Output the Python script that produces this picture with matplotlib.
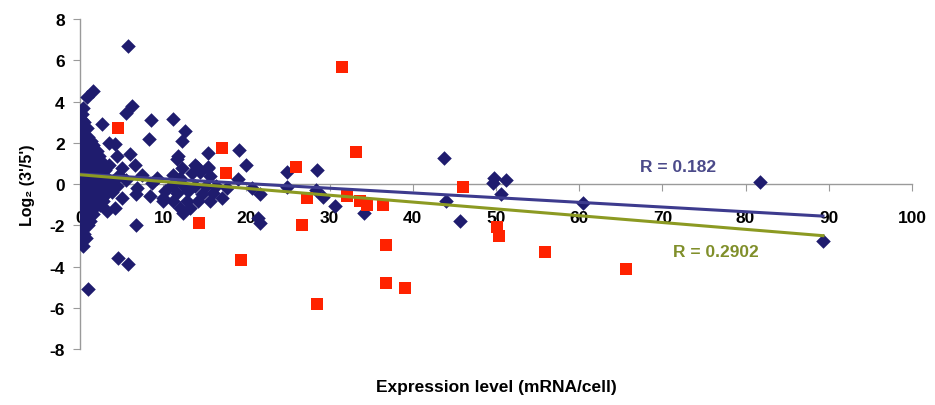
import matplotlib.pyplot as plt
import numpy as np

plt.rcParams['font.family'] = ['Liberation Sans', 'DejaVu Sans']
plt.rcParams['font.weight'] = 'bold'
plt.rcParams['axes.unicode_minus'] = False

# blue series (diamonds)
blue_x = [0.2, 0.5, 0.3, 0.8, 0.1, 0.6, 1.0, 0.3, 0.8, 1.3, 0.2, 0.5, 1.1, 1.6,
          0.2, 0.8, 1.4, 2.0, 0.4, 1.0, 1.7, 2.3, 0.1, 0.6, 1.3, 2.0, 2.8,
          0.3, 0.9, 1.6, 2.4, 3.0, 0.1, 0.6, 1.2, 1.9, 2.6, 3.3, 4.0,
          0.3, 0.9, 1.5, 2.2, 2.9, 3.6, 4.5, 0.1, 0.6, 1.2, 1.8, 2.5, 3.2, 3.9,
          0.3, 0.9, 1.5, 2.1, 2.8, 0.1, 0.6, 1.2, 1.8, 2.4, 0.3, 0.9, 1.5,
          0.1, 0.6, 1.2, 0.3, 0.9, 0.5, 0.2, 0.7, 0.4,
          0.4, 0.8, 1.5, 0.2, 0.1, 0.1, 0.1, 0.1,
          3.5, 4.2, 2.7, 6.0, 6.6, 4.4, 5.0, 3.5, 4.7, 7.4, 5.5, 6.8, 4.2, 5.0,
          3.2, 6.7, 6.7, 4.6, 5.8, 1.0, 8.5, 8.3, 5.8, 6.3, 5.5, 8.7, 8.4, 9.2,
          11.2, 12.6, 12.2, 11.8, 15.4, 19.1, 20.0, 19.0, 24.9, 24.9, 21.6, 20.7,
          15.4, 12.3, 12.0, 14.1, 17.1, 12.4, 10.0, 11.6, 13.8, 15.4, 14.4, 13.5,
          11.2, 15.6, 11.1, 12.4, 13.8, 15.2, 16.4, 10.2, 11.6, 13.0, 14.7, 16.0,
          10.0, 11.2, 12.9, 14.2, 15.6, 12.0, 13.2, 17.7, 21.4, 21.6,
          28.5, 28.4, 29.2, 30.6, 34.1, 43.8, 44.0, 45.7, 49.8, 49.6, 51.2, 50.6,
          60.5, 81.7, 89.3]
blue_y = [3.1, 3.0, 2.8, 2.7, 2.5, 2.4, 2.3, 2.2, 2.0, 2.1, 1.9, 1.7, 1.8, 1.9,
          1.5, 1.4, 1.5, 1.6, 1.2, 1.1, 1.2, 1.35, 0.9, 0.9, 0.8, 0.9, 1.0,
          0.6, 0.5, 0.6, 0.55, 0.7, 0.3, 0.2, 0.3, 0.25, 0.2, 0.3, 0.15,
          0.0, -0.1, 0.0, -0.05, -0.1, -0.05, -0.1, -0.35, -0.4, -0.3, -0.4, -0.35, -0.45, -0.4,
          -0.7, -0.7, -0.65, -0.75, -0.8, -1.0, -1.05, -1.0, -1.1, -1.0, -1.35, -1.4, -1.45,
          -1.7, -1.75, -1.8, -2.1, -2.0, -2.4, -2.7, -2.6, -3.0,
          3.7, 4.2, 4.5, 3.4, 1.2, -0.6, -1.5, -2.3,
          2.0, 1.95, 2.9, 1.45, 0.9, 1.35, 0.8, 0.9, 0.45, 0.45, 0.2, -0.2, -1.15, -0.7,
          -1.3, -0.5, -2.0, -3.6, -3.9, -5.1, 3.1, 2.2, 6.7, 3.8, 3.45, 0.05, -0.6, 0.3,
          3.15, 2.55, 2.1, 1.35, 1.5, 1.65, 0.9, 0.25, 0.6, -0.15, -0.5, -0.2,
          0.8, 0.8, 0.3, 0.85, -0.7, -1.4, -0.7, 1.2, 0.9, 0.85, 0.6, 0.55,
          0.45, 0.4, -0.05, -0.05, -0.1, -0.1, -0.1, -0.35, -0.45, -0.35, -0.5, -0.45,
          -0.8, -0.8, -0.8, -0.8, -0.8, -1.15, -1.15, -0.2, -1.65, -1.9,
          0.7, -0.3, -0.65, -1.05, -1.4, 1.25, -0.8, -1.8, 0.3, 0.05, 0.2, -0.5,
          -0.9, 0.1, -2.75]

# red series (squares)
red_x = [4.6, 17.1, 17.5, 26.0, 14.3, 19.4, 26.7, 27.3, 31.5, 33.2, 32.1, 33.6,
         34.5, 36.4, 36.8, 36.8, 39.1, 28.5, 46.0, 50.1, 50.4, 55.9, 65.6]
red_y = [2.7, 1.75, 0.55, 0.85, -1.9, -3.7, -2.0, -0.7, 5.7, 1.55, -0.6, -0.8,
         -1.0, -1.0, -2.95, -4.8, -5.05, -5.8, -0.15, -2.1, -2.5, -3.3, -4.1]

# linear trend lines (intercept, slope), drawn over 0..89
blue_fit = (0.48, -0.0228)
red_fit = (0.45, -0.0331)
fit_range = [0, 89.3]

fig = plt.figure(figsize=(9.35, 4.06), dpi=100)
ax = fig.add_axes([0.0856, 0.138, 0.8898, 0.8125])

ax.scatter(blue_x, blue_y, marker='D', s=55, color='#1f1c6e', zorder=3, linewidths=0)
ax.scatter(red_x, red_y, marker='s', s=78, color='#ff2200', zorder=4, linewidths=0)

xs = np.array(fit_range)
ax.plot(xs, blue_fit[0] + blue_fit[1] * xs, color='#3d3b8e', lw=2.2, zorder=5)
ax.plot(xs, red_fit[0] + red_fit[1] * xs, color='#8c9a22', lw=2.2, zorder=5)

ax.text(67.3, 0.83, 'R = 0.182', color='#4b4a8a', fontsize=12.5, fontweight='bold',
        va='center')
ax.text(71.3, -3.25, 'R = 0.2902', color='#808f2a', fontsize=12.5, fontweight='bold',
        va='center')

ax.set_xlim(0, 100)
ax.set_ylim(-8, 8)
ax.set_xticks(np.arange(0, 101, 10))
ax.set_yticks(np.arange(-8, 9, 2))
ax.spines['top'].set_visible(False)
ax.spines['right'].set_visible(False)
ax.spines['bottom'].set_position(('data', 0))
for s in ('left', 'bottom'):
    ax.spines[s].set_color('#9a9a9a')
    ax.spines[s].set_linewidth(1.0)
ax.tick_params(axis='x', direction='out', length=5, color='#9a9a9a', pad=14,
               labelsize=12.5)
ax.tick_params(axis='y', direction='out', length=5, color='#9a9a9a', pad=6,
               labelsize=12.5)
for lab in ax.get_xticklabels() + ax.get_yticklabels():
    lab.set_fontweight('bold')

ax.set_ylabel("Log₂ (3'/5')", fontsize=11.5, fontweight='bold', labelpad=10)
fig.text(0.531, 0.045, 'Expression level (mRNA/cell)', fontsize=12.5,
         fontweight='bold', ha='center', va='center')

fig.savefig('out.png', dpi=100)
